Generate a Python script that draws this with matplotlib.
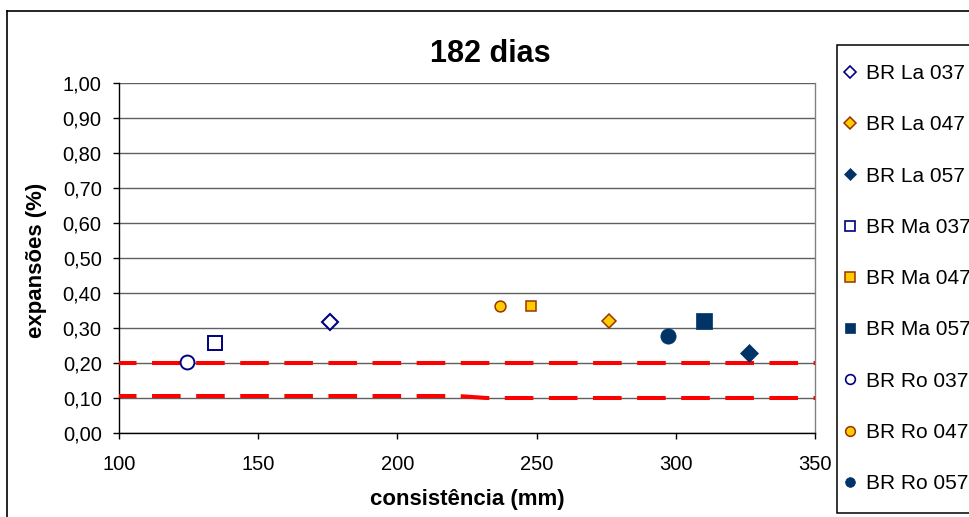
import matplotlib
matplotlib.use("Agg")
import matplotlib.pyplot as plt
from matplotlib.patches import Rectangle
from matplotlib.lines import Line2D
from matplotlib.ticker import FuncFormatter

plt.rcParams["font.family"] = ["Liberation Sans", "DejaVu Sans"]

# data (consistência mm, expansão %)
series = ["BR La 037", "BR La 047", "BR La 057",
          "BR Ma 037", "BR Ma 047", "BR Ma 057",
          "BR Ro 037", "BR Ro 047", "BR Ro 057"]
consist = [175.7, 276.1, 326.3, 134.5, 247.9, 310.2, 124.3, 237.0, 297.3]
expans = [0.316, 0.321, 0.230, 0.256, 0.364, 0.319, 0.204, 0.364, 0.278]

# limit lines
lim_hi_x = [100, 350]
lim_hi_y = [0.20, 0.20]
lim_lo_x = [100, 222, 232, 350]
lim_lo_y = [0.1057, 0.1057, 0.10, 0.10]

xticks = [100, 150, 200, 250, 300, 350]
yticks = [i / 10 for i in range(11)]

navy = "#000080"
dark = "#003366"
gold = "#FFCC00"
brown = "#993300"

# marker, size, legend size, face, edge, edge width
styles = [
    ("D", 8.0, 6.0, "white", navy, 1.5),
    ("D", 6.8, 6.0, gold, brown, 1.1),
    ("D", 9.0, 6.0, dark, dark, 0.5),
    ("s", 9.6, 6.8, "white", navy, 1.4),
    ("s", 7.8, 6.8, gold, brown, 1.1),
    ("s", 11.0, 6.8, dark, dark, 0.5),
    ("o", 10.0, 7.0, "white", navy, 1.4),
    ("o", 7.8, 7.0, gold, brown, 1.1),
    ("o", 11.0, 7.0, dark, dark, 0.5),
]

W, H = 970, 517
fig = plt.figure(figsize=(W / 100, H / 100), dpi=100)
ax = fig.add_axes([119 / W, 1 - 433 / H, (815 - 119) / W, (433 - 83) / H])

handles = []
for name, x, y, (m, ms, lms, fc, ec, ew) in zip(series, consist, expans, styles):
    ax.plot([x], [y], linestyle="none", marker=m, markersize=ms,
            markerfacecolor=fc, markeredgecolor=ec, markeredgewidth=ew,
            zorder=4, clip_on=False)
    handles.append(Line2D([], [], linestyle="none", marker=m, markersize=lms,
                          markerfacecolor=fc, markeredgecolor=ec,
                          markeredgewidth=min(ew, 1.2), label=name))

for lx, ly in [(lim_hi_x, lim_hi_y), (lim_lo_x, lim_lo_y)]:
    ax.plot(lx, ly, color="#FF0000", linewidth=2.9, linestyle=(2.75, (7.1, 3.85)),
            zorder=3, dash_capstyle="butt", clip_on=False)

ax.set_xlim(100, 350)
ax.set_ylim(0, 1)
ax.set_xticks(xticks)
ax.set_yticks(yticks)
ax.yaxis.set_major_formatter(FuncFormatter(lambda v, p: f"{v:.2f}".replace(".", ",")))
ax.grid(axis="y", color="#606060", linewidth=1)
ax.set_axisbelow(True)
ax.spines["top"].set_visible(False)
ax.spines["right"].set_color("#808080")
ax.spines["right"].set_linewidth(1)
for s in ["left", "bottom"]:
    ax.spines[s].set_color("black")
    ax.spines[s].set_linewidth(1)
ax.tick_params(axis="both", direction="out", length=4.5, width=1, labelsize=14.5, colors="black")
ax.tick_params(axis="y", pad=8)
ax.tick_params(axis="x", pad=11)

ax.set_ylabel("expansões (%)", fontsize=16, fontweight="bold")
ax.yaxis.set_label_coords(-0.104, 0.493)
ax.set_xlabel("consistência (mm)", fontsize=16, fontweight="bold")
ax.xaxis.set_label_coords(0.5, -0.16)

fig.text(490.5 / W, 1 - 62 / H, "182 dias", fontsize=22, fontweight="bold",
         ha="center", va="baseline")

# outer chart border
fig.add_artist(Line2D([7.5 / W, 7.5 / W], [0, 1 - 10.5 / H], color="black", linewidth=1.2))
fig.add_artist(Line2D([7.5 / W, 1], [1 - 10.5 / H, 1 - 10.5 / H], color="black", linewidth=1.2))

# legend box
fig.add_artist(Rectangle((837.5 / W, 1 - 513 / H), (W - 837) / W + 0.05, (513 - 45) / H,
                         transform=fig.transFigure, facecolor="white",
                         edgecolor="black", linewidth=1.1, clip_on=False))
fig.legend(handles=handles, loc="upper left", bbox_to_anchor=(845 / W, 1 - 64 / H),
           frameon=False, fontsize=15, borderpad=0, handlelength=0.5,
           handletextpad=0.53, labelspacing=1.55, borderaxespad=0)

fig.savefig("out.png", dpi=100)
